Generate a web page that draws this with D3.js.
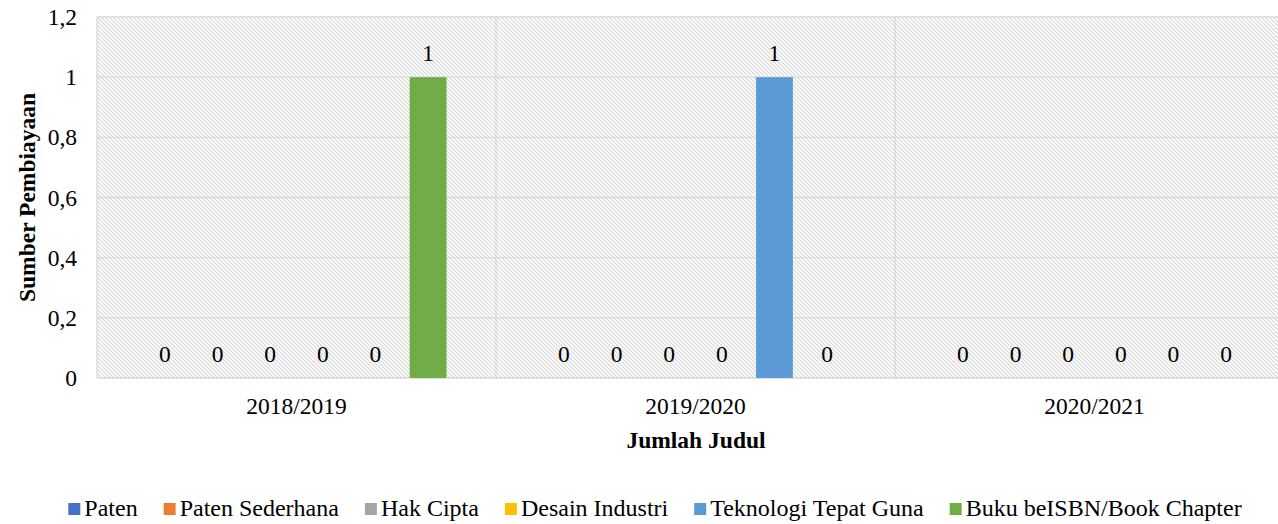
<!DOCTYPE html>
<html lang="en">
<head>
    <meta charset="utf-8">
    <style type="text/css">
        body { margin: 0; background: #fff; }
        text { font-family: "Liberation Serif", "Times New Roman", serif; fill: #000; }
        .grid { stroke: #d9d9d9; stroke-width: 1.3px; }
        .title { font-weight: bold; }
    </style>
</head>
<body>
<svg width="1278" height="524"></svg>

<script src="https://d3js.org/d3.v7.min.js" type="text/javascript"></script>

<script type="text/javascript">
    var years = ["2018/2019", "2019/2020", "2020/2021"];
    var seriesNames = ["Paten", "Paten Sederhana", "Hak Cipta", "Desain Industri", "Teknologi Tepat Guna", "Buku beISBN/Book Chapter"];
    var seriesColors = ["#4472c4", "#ed7d31", "#a5a5a5", "#ffc000", "#5b9bd5", "#70ad47"];
    // one array per series, in the order of years
    var paten = [0, 0, 0];
    var patenSederhana = [0, 0, 0];
    var hakCipta = [0, 0, 0];
    var desainIndustri = [0, 0, 0];
    var teknologiTepatGuna = [0, 1, 0];
    var bukuIsbn = [1, 0, 0];
    var yTicks = [0, 0.2, 0.4, 0.6, 0.8, 1, 1.2];

    var seriesValues = [paten, patenSederhana, hakCipta, desainIndustri, teknologiTepatGuna, bukuIsbn];

    var svg = d3.select("svg"),
        plotLeft = 97, plotRight = 1294, plotTop = 17, plotBottom = 378;

    var x0 = d3.scaleBand().domain(years).range([plotLeft, plotRight]);
    var x1 = d3.scaleBand().domain(seriesNames).range([0, x0.bandwidth()])
        .paddingInner(0.3).paddingOuter(0.94);
    var y = d3.scaleLinear().domain([0, 1.2]).range([plotBottom, plotTop]);
    var fmt = function (d) { return d3.format("")(d).replace(".", ","); };

    // hatched plot background
    var pat = svg.append("defs").append("pattern")
        .attr("id", "hatch")
        .attr("patternUnits", "userSpaceOnUse")
        .attr("width", 4).attr("height", 4);
    pat.append("rect").attr("width", 4).attr("height", 4).attr("fill", "#fff");
    pat.append("path")
        .attr("d", "M0,0 L4,4 M-1,3 L1,5 M3,-1 L5,1")
        .attr("stroke", "#d6d6d6")
        .attr("stroke-width", 1.1);

    svg.append("rect")
        .attr("x", plotLeft).attr("y", plotTop)
        .attr("width", plotRight - plotLeft).attr("height", plotBottom - plotTop)
        .attr("fill", "url(#hatch)");

    // gridlines
    svg.append("g").selectAll("line")
        .data(yTicks)
        .enter().append("line")
        .attr("class", "grid")
        .attr("x1", plotLeft).attr("x2", plotRight)
        .attr("y1", function (d) { return y(d); })
        .attr("y2", function (d) { return y(d); });

    svg.append("g").selectAll("line")
        .data(years.concat(["end"]))
        .enter().append("line")
        .attr("class", "grid")
        .attr("x1", function (d, i) { return i < years.length ? x0(d) : plotRight; })
        .attr("x2", function (d, i) { return i < years.length ? x0(d) : plotRight; })
        .attr("y1", plotTop).attr("y2", plotBottom);

    // y tick labels
    svg.append("g").selectAll("text")
        .data(yTicks)
        .enter().append("text")
        .attr("x", 77)
        .attr("y", function (d) { return y(d) + 8; })
        .attr("text-anchor", "end")
        .style("font-size", "23.5px")
        .text(fmt);

    // bars
    var groups = svg.append("g").selectAll("g")
        .data(years)
        .enter().append("g")
        .attr("transform", function (d) { return "translate(" + x0(d) + ",0)"; });

    var cells = groups.selectAll("g")
        .data(function (d, yi) {
            return seriesNames.map(function (s, si) {
                return { name: s, value: seriesValues[si][yi], color: seriesColors[si] };
            });
        })
        .enter().append("g");

    cells.append("rect")
        .attr("x", function (d) { return x1(d.name); })
        .attr("width", x1.bandwidth())
        .attr("y", function (d) { return y(d.value); })
        .attr("height", function (d) { return plotBottom - y(d.value); })
        .attr("fill", function (d) { return d.color; });

    cells.append("text")
        .attr("x", function (d) { return x1(d.name) + x1.bandwidth() / 2; })
        .attr("y", function (d) { return y(d.value) - 16; })
        .attr("text-anchor", "middle")
        .style("font-size", "23.5px")
        .text(function (d) { return fmt(d.value); });

    // category labels
    svg.append("g").selectAll("text")
        .data(years)
        .enter().append("text")
        .attr("x", function (d) { return x0(d) + x0.bandwidth() / 2; })
        .attr("y", 414)
        .attr("text-anchor", "middle")
        .style("font-size", "23.5px")
        .text(function (d) { return d; });

    // axis titles
    svg.append("text")
        .attr("class", "title")
        .attr("x", 696).attr("y", 448)
        .attr("text-anchor", "middle")
        .style("font-size", "23.5px")
        .text("Jumlah Judul");

    svg.append("text")
        .attr("class", "title")
        .attr("transform", "translate(35," + ((plotTop + plotBottom) / 2) + ") rotate(-90)")
        .attr("text-anchor", "middle")
        .style("font-size", "23.5px")
        .text("Sumber Pembiayaan");

    // legend, centred under the chart
    var legend = svg.append("g");
    var lx = 0;
    seriesNames.forEach(function (name, i) {
        var item = legend.append("g").attr("transform", "translate(" + lx + ",0)");
        item.append("rect")
            .attr("x", 0).attr("y", 503)
            .attr("width", 12).attr("height", 12)
            .attr("fill", seriesColors[i]);
        var t = item.append("text")
            .attr("x", 16).attr("y", 516)
            .style("font-size", "24px")
            .text(name);
        lx += 16 + t.node().getComputedTextLength() + (i < seriesNames.length - 1 ? 26 : 0);
    });
    legend.attr("transform", "translate(" + (655 - lx / 2) + ",0)");
</script>

</body>
</html>
